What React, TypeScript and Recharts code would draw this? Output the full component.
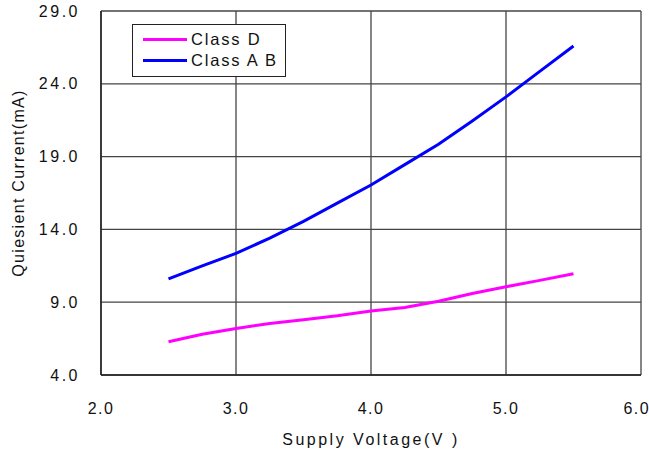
import React from "react"
import { CartesianGrid, Legend, Line, LineChart, XAxis, YAxis } from "recharts"

const voltages = [2.5, 2.75, 3.0, 3.25, 3.5, 3.75, 4.0, 4.25, 4.5, 4.75, 5.0, 5.25, 5.5]
const classD = [6.28, 6.8, 7.2, 7.53, 7.8, 8.07, 8.4, 8.63, 9.06, 9.6, 10.06, 10.5, 10.95]
const classAB = [10.6, 11.5, 12.35, 13.4, 14.55, 15.8, 17.05, 18.45, 19.85, 21.45, 23.1, 24.85, 26.6]
const seriesNames = ["Class D", "Class A B"]
const xTicks = [2, 3, 4, 5, 6]
const yTicks = [4, 9, 14, 19, 24, 29]

const data = voltages.map((v, i) => ({ v, d: classD[i], ab: classAB[i] }))

const font = "'Liberation Sans', Arial, sans-serif"
const textColor = "#111"

function YTitle({ viewBox }: any) {
  const cx = 18
  const cy = viewBox.y + viewBox.height / 2 - 10
  return (
    <text
      x={cx}
      y={cy}
      transform={`rotate(-90, ${cx}, ${cy})`}
      textAnchor="middle"
      dominantBaseline="central"
      fontSize={16}
      letterSpacing={1.3}
      fontFamily={font}
      fill={textColor}
    >
      Quiesient Current(mA)
    </text>
  )
}

function LegendBox({ payload }: any) {
  const items = [...(payload || [])].sort(
    (a: any, b: any) => seriesNames.indexOf(a.value) - seriesNames.indexOf(b.value)
  )
  return (
    <div
      style={{
        border: "1px solid #222",
        background: "#fff",
        width: 154,
        height: 53,
        boxSizing: "border-box",
        padding: "4px 0 0 10px",
        fontFamily: font,
        fontSize: 16.5,
        color: textColor,
      }}
    >
      {items.map((p: any) => (
        <div key={p.value} style={{ display: "flex", alignItems: "center", height: 21 }}>
          <span style={{ display: "inline-block", width: 44, height: 3, background: p.color, marginRight: 4 }} />
          <span style={{ letterSpacing: 1.8 }}>{p.value}</span>
        </div>
      ))}
    </div>
  )
}

export default function App() {
  return (
    <div style={{ position: "absolute", left: 0, top: 0, background: "#fff" }}>
      <LineChart width={649} height={455} data={data} margin={{ top: 11, right: 8, bottom: 0, left: 0 }}>
        <CartesianGrid stroke="#444" strokeWidth={1.3} />
        <XAxis
          dataKey="v"
          type="number"
          domain={[2, 6]}
          ticks={xTicks}
          tickFormatter={(t: number) => t.toFixed(1)}
          tickLine={false}
          axisLine={{ stroke: "#222", strokeWidth: 1.5 }}
          height={80}
          tickMargin={22}
          tick={{ fontSize: 16, fontFamily: font, fill: textColor, letterSpacing: 1.5 }}
          label={{
            value: "Supply Voltage(V )",
            position: "insideBottom",
            offset: 10,
            style: { fontSize: 16, fontFamily: font, fill: textColor, letterSpacing: 2.5 },
          }}
        />
        <YAxis
          type="number"
          domain={[4, 29]}
          ticks={yTicks}
          tickFormatter={(t: number) => t.toFixed(1)}
          tickLine={false}
          axisLine={{ stroke: "#222", strokeWidth: 1.5 }}
          width={101}
          tickMargin={15}
          tick={{ fontSize: 16, fontFamily: font, fill: textColor, letterSpacing: 2.5 }}
          label={{ content: <YTitle /> }}
        />
        <Legend
          layout="horizontal"
          verticalAlign="middle"
          align="center"
          content={<LegendBox />}
          wrapperStyle={{ position: "absolute", left: 132, top: 24, width: 154 }}
        />
        <Line dataKey="d" name="Class D" stroke="#ff00ff" strokeWidth={3} dot={false} isAnimationActive={false} />
        <Line dataKey="ab" name="Class A B" stroke="#0000ff" strokeWidth={3} dot={false} isAnimationActive={false} />
      </LineChart>
    </div>
  )
}
